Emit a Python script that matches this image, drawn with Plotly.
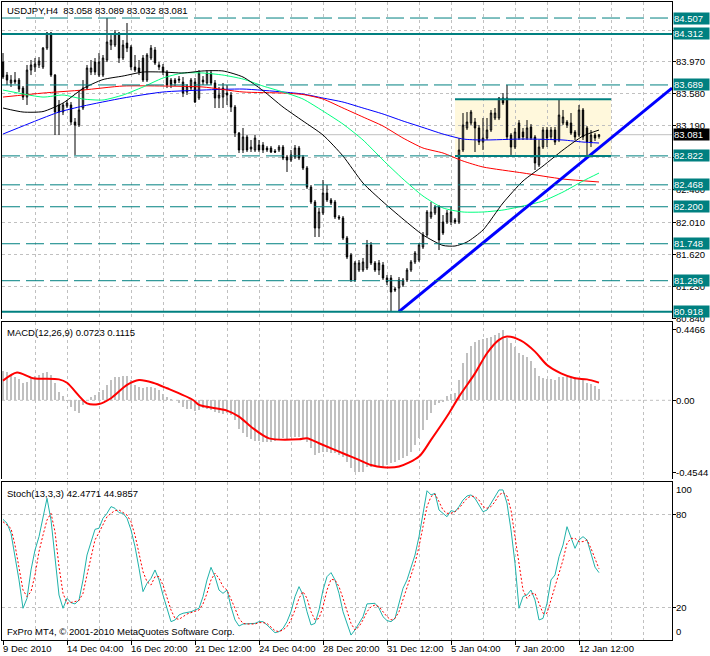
import plotly.graph_objects as go

# ---------------- data ----------------
bar_index = list(range(150))
open_ = [83.969,83.810,83.713,83.749,83.749,83.651,83.541,83.871,83.908,83.933,
         83.908,84.140,84.324,83.810,83.444,83.358,83.431,83.444,83.236,83.199,
         83.407,83.651,83.847,83.969,83.810,83.810,83.994,84.177,84.177,84.324,
         84.018,84.201,84.153,83.908,83.896,84.018,83.749,84.018,84.116,83.933,
         83.908,83.847,83.749,83.749,83.761,83.725,83.603,83.651,83.725,83.529,
         83.749,83.713,83.835,83.713,83.529,83.541,83.590,83.566,83.419,83.101,
         82.894,83.053,82.906,82.894,82.955,82.955,82.918,82.918,82.881,82.894,
         82.930,82.808,82.771,82.808,82.918,82.808,82.674,82.441,82.258,81.940,
         82.124,82.368,82.283,82.258,82.075,82.063,81.818,81.610,81.305,81.427,
         81.427,81.451,81.733,81.513,81.427,81.488,81.329,81.329,81.195,81.207,
         81.244,81.305,81.427,81.525,81.549,81.708,81.855,82.075,82.124,82.197,
         82.014,82.014,82.014,82.038,82.014,82.894,83.163,83.224,83.236,83.163,
         82.991,83.040,83.138,83.285,83.285,83.529,83.529,83.077,82.930,83.224,
         83.114,83.040,83.175,83.053,82.710,82.930,83.138,83.053,83.138,83.016,
         83.224,83.236,83.224,83.114,83.077,83.383,83.163,82.991,83.077,83.058]
high = [84.079,83.847,83.810,83.847,83.774,83.676,83.933,83.994,84.018,84.030,
        84.153,84.336,84.336,83.823,83.505,83.468,83.505,83.480,83.285,83.627,
        83.749,83.933,83.994,84.018,84.079,84.055,84.507,84.299,84.360,84.336,
        84.238,84.446,84.177,84.055,83.994,84.055,84.079,84.177,84.153,83.969,
        83.945,83.871,83.774,83.774,83.798,83.786,83.700,83.774,83.774,83.871,
        83.798,83.871,83.871,83.749,83.664,83.713,83.688,83.603,83.444,83.114,
        83.163,83.077,83.016,83.077,83.016,82.991,82.943,82.943,82.906,82.955,
        82.955,82.833,82.894,82.955,82.943,82.833,82.698,82.466,82.283,82.185,
        82.527,82.466,82.307,82.283,82.099,82.087,81.843,81.635,81.537,81.549,
        81.574,81.794,81.769,81.537,81.549,81.525,81.366,81.366,81.219,81.341,
        81.329,81.451,81.549,81.659,81.757,81.891,82.160,82.258,82.221,82.221,
        82.099,82.160,82.197,82.063,83.040,83.346,83.358,83.383,83.285,83.199,
        83.285,83.285,83.383,83.407,83.541,83.590,83.688,83.101,83.163,83.260,
        83.163,83.260,83.211,83.077,83.016,83.175,83.175,83.175,83.175,83.505,
        83.383,83.260,83.346,83.138,83.444,83.407,83.187,83.138,83.101,83.089]
low = [83.761,83.688,83.664,83.700,83.603,83.505,83.444,83.810,83.847,83.896,
       83.884,84.116,83.786,83.077,83.077,83.321,83.407,83.199,82.833,83.175,
       83.383,83.627,83.810,83.810,83.786,83.786,83.969,84.116,84.153,83.957,
       83.994,84.091,83.871,83.847,83.810,83.725,83.725,83.994,83.933,83.871,
       83.810,83.651,83.651,83.676,83.713,83.541,83.566,83.627,83.468,83.505,
       83.688,83.688,83.688,83.407,83.407,83.407,83.444,83.358,83.053,82.857,
       82.857,82.869,82.869,82.869,82.869,82.857,82.869,82.857,82.857,82.869,
       82.771,82.625,82.747,82.784,82.771,82.649,82.417,82.234,81.830,81.830,
       82.099,82.258,82.221,82.050,82.038,81.794,81.561,81.280,81.280,81.403,
       81.403,81.427,81.488,81.403,81.366,81.305,81.244,80.918,81.158,80.918,
       81.219,81.280,81.403,81.500,81.525,81.684,81.830,82.050,82.099,81.671,
       81.855,81.989,81.977,81.989,81.989,82.869,83.138,83.199,82.869,82.955,
       82.894,83.016,83.114,83.260,83.260,83.444,83.016,82.833,82.906,83.016,
       83.016,83.016,83.016,82.649,82.686,82.906,82.930,83.016,82.955,82.991,
       83.199,83.163,83.077,83.016,83.053,83.016,82.808,82.930,83.004,83.032]
close = [83.786,83.749,83.749,83.725,83.639,83.541,83.871,83.933,83.945,83.981,
         84.140,84.324,83.810,83.358,83.358,83.444,83.468,83.236,83.199,83.383,
         83.651,83.896,83.896,83.847,83.969,84.018,84.214,84.238,84.324,84.018,
         84.177,84.140,83.908,83.871,83.847,83.749,84.055,84.140,83.957,83.908,
         83.847,83.688,83.688,83.713,83.749,83.590,83.676,83.749,83.480,83.835,
         83.725,83.835,83.713,83.529,83.566,83.651,83.566,83.419,83.101,82.894,
         83.053,82.894,82.930,83.040,82.894,82.894,82.894,82.869,82.869,82.930,
         82.796,82.771,82.833,82.918,82.796,82.674,82.441,82.258,81.940,82.136,
         82.368,82.283,82.246,82.075,82.063,81.818,81.586,81.305,81.513,81.513,
         81.525,81.733,81.513,81.427,81.513,81.329,81.280,81.158,81.183,81.305,
         81.305,81.427,81.525,81.635,81.733,81.855,82.136,82.136,82.197,81.794,
         81.879,82.124,82.136,82.014,82.894,83.199,83.236,83.358,83.163,82.991,
         83.040,83.138,83.346,83.346,83.529,83.468,83.053,82.930,83.114,83.040,
         83.053,83.163,83.040,82.735,82.930,83.138,83.040,83.138,82.991,83.321,
         83.297,83.199,83.101,83.053,83.383,83.053,82.991,83.077,83.040,83.081]

ma_black_x = [0,5,10,15,20,25,30,35,40,45,50,55,60,65,70,75,80,85,90,95,100,105,110,113,116,120,125,130,135,140,145,149]
ma_black = [83.407,83.358,83.364,83.468,83.645,83.755,83.798,83.847,83.847,83.835,83.860,83.860,83.786,83.620,
            83.419,83.248,83.077,82.820,82.490,82.260,82.050,81.855,81.727,81.720,81.769,81.916,82.246,82.515,
            82.698,82.894,83.065,83.138]
ma_green_x = [0,10,15,20,25,30,35,40,45,50,55,60,65,70,75,80,85,90,95,100,105,110,115,120,125,130,135,140,145,149]
ma_green = [83.627,83.541,83.566,83.517,83.505,83.566,83.664,83.774,83.835,83.835,83.810,83.761,83.676,83.603,
            83.517,83.370,83.211,83.016,82.771,82.539,82.331,82.185,82.136,82.136,82.160,82.209,82.270,82.380,
            82.515,82.612]
ma_red_x = [0,10,20,30,40,50,60,70,75,80,85,90,95,100,105,110,115,120,130,140,149]
ma_red = [83.541,83.590,83.627,83.676,83.676,83.664,83.603,83.590,83.572,83.517,83.407,83.297,83.187,83.040,
          82.918,82.857,82.759,82.686,82.613,82.539,82.503]
ma_blue_x = [0,10,14,20,30,40,50,60,70,75,80,85,90,95,100,105,110,115,120,130,140,145,149]
ma_blue = [83.089,83.285,83.358,83.431,83.529,83.603,83.627,83.639,83.603,83.578,83.529,83.480,83.407,83.334,
           83.248,83.169,83.089,83.028,83.016,83.028,83.016,82.991,82.979]

macd_hist = [0.187,0.177,0.160,0.145,0.132,0.107,0.118,0.139,0.154,0.160,
             0.170,0.181,0.160,0.107,0.055,0.027,-0.004,-0.044,-0.065,-0.078,
             -0.029,0.002,0.019,0.034,0.055,0.065,0.097,0.128,0.145,0.149,
             0.154,0.154,0.128,0.097,0.086,0.076,0.082,0.086,0.080,0.065,
             0.040,0.019,0.006,0.002,-0.015,-0.040,-0.053,-0.057,-0.069,-0.061,
             -0.050,-0.057,-0.061,-0.072,-0.078,-0.086,-0.082,-0.093,-0.124,-0.183,
             -0.208,-0.229,-0.246,-0.254,-0.257,-0.261,-0.265,-0.265,-0.254,-0.246,
             -0.240,-0.246,-0.233,-0.229,-0.229,-0.240,-0.261,-0.303,-0.345,-0.334,
             -0.324,-0.324,-0.334,-0.334,-0.345,-0.355,-0.387,-0.429,-0.450,-0.454,
             -0.450,-0.418,-0.418,-0.414,-0.418,-0.418,-0.408,-0.397,-0.387,-0.376,
             -0.366,-0.351,-0.324,-0.282,-0.240,-0.187,-0.124,-0.078,-0.029,-0.019,
             -0.008,0.027,0.040,0.048,0.128,0.233,0.297,0.343,0.370,0.381,
             0.385,0.391,0.402,0.412,0.423,0.4466,0.391,0.364,0.339,0.301,
             0.286,0.276,0.250,0.202,0.154,0.139,0.132,0.132,0.128,0.149,
             0.145,0.145,0.145,0.145,0.139,0.132,0.111,0.103,0.090,0.0723]
macd_signal_x = [0,3.5,7.5,14,16,21,24,27,31,34,37.5,41,47.5,49,56,59,62.5,66.5,74,76,79,86,89,92,95,99,
                 104,107,111.5,114,118,121,124,126,129.5,133,136,139.5,143,146,149]
macd_signal = [0.124,0.175,0.139,0.132,0.111,-0.019,-0.023,0.013,0.097,0.128,0.111,0.076,0.002,-0.029,
               -0.065,-0.103,-0.177,-0.240,-0.246,-0.240,-0.271,-0.345,-0.376,-0.408,-0.423,-0.418,
               -0.355,-0.250,-0.082,0.023,0.170,0.297,0.381,0.402,0.376,0.307,0.223,0.170,0.139,0.132,0.1115]

stoch_main = [76.7,74.2,67.7,52.7,37.8,19.6,26.0,44.2,57.0,65.6,
              78.4,90.2,76.3,50.6,28.1,19.6,26.0,23.2,22.4,24.9,
              37.8,53.8,62.4,70.3,71.0,77.4,80.6,84.9,83.8,81.0,
              80.6,77.4,69.9,59.2,45.3,30.3,35.6,38.8,44.2,37.8,
              28.1,19.6,11.0,12.1,15.3,16.4,16.8,17.4,18.5,19.6,
              27.1,37.8,45.9,39.9,31.3,29.2,31.3,20.6,12.1,8.2,
              9.5,9.5,9.5,9.9,11.0,11.0,8.9,6.1,3.9,4.6,
              6.7,11.0,17.4,27.1,33.5,28.1,17.4,8.9,9.9,18.5,
              31.3,39.9,42.5,37.8,29.2,17.4,9.9,2.4,5.7,9.9,
              14.2,22.4,22.8,22.8,19.6,14.2,11.7,11.0,13.1,22.8,
              32.4,37.8,45.3,53.8,65.6,80.6,95.1,92.4,93.4,82.7,
              80.6,78.4,82.3,81.6,84.9,89.1,91.7,92.4,90.2,85.9,
              81.6,82.7,87.0,91.3,95.6,95.6,87.0,69.9,48.5,19.6,
              27.1,28.2,31.3,24.9,12.1,13.1,22.8,37.8,41.0,52.7,
              60.2,72.0,65.6,58.1,63.5,65.6,63.5,54.9,46.0,42.48]
stoch_signal = [75.2,73.1,70.9,60.2,45.3,31.3,27.1,30.3,41.0,56.0,
                66.6,76.3,80.6,68.8,46.3,29.2,22.8,23.2,23.9,24.6,
                29.2,41.0,52.7,63.5,68.2,73.1,78.4,80.6,82.3,82.7,
                81.0,79.5,75.2,66.6,54.9,43.1,36.7,34.5,39.9,39.9,
                34.5,26.0,18.5,13.1,12.5,14.2,15.9,16.8,17.9,18.5,
                22.4,29.2,37.8,42.1,38.8,33.5,31.3,26.0,19.6,13.1,
                9.9,9.5,9.5,9.5,10.4,10.4,9.9,7.8,5.2,4.6,
                5.7,7.8,12.1,18.5,26.0,30.3,26.0,17.4,12.1,13.1,
                20.6,31.3,38.2,37.8,33.5,26.0,17.4,9.9,5.7,7.8,
                12.1,17.4,20.6,21.7,20.6,17.4,14.2,12.1,13.1,17.4,
                24.9,32.4,39.9,48.5,59.2,72.0,84.9,91.3,93.0,88.1,
                82.7,80.6,80.6,81.6,83.8,87.0,90.2,91.7,91.3,89.1,
                84.9,83.8,84.9,88.1,92.4,93.9,91.7,82.7,65.6,46.3,
                31.3,26.0,28.8,29.2,22.4,16.4,16.4,24.9,33.5,43.1,
                50.6,61.3,64.5,64.5,62.4,62.4,63.5,58.1,51.7,44.99]

tick_bars = [0, 16, 32, 48, 64, 80, 96, 112, 128, 144]
tick_text = ["9 Dec 2010", "14 Dec 04:00", "16 Dec 20:00", "21 Dec 12:00", "24 Dec 04:00",
             "28 Dec 20:00", "31 Dec 12:00", "5 Jan 04:00", "7 Jan 20:00", "12 Jan 12:00"]

price_grid = [84.360, 83.970, 83.580, 83.190, 82.800, 82.405, 82.010, 81.620, 81.230, 80.840]
price_label_vals = [84.360, 83.970, 83.580, 83.190, 82.405, 82.010, 81.620, 81.230, 80.840]
price_label_text = ["84.360", "83.970", "83.580", "83.190", "82.400", "82.010", "81.620", "81.230", "80.840"]
levels_dashed = [84.507, 83.689, 82.822, 82.468, 82.200, 81.748, 81.296]
levels_solid = [84.312, 80.918]
last_price = 83.081
rect_bars = [113, 152]
rect_prices = [82.822, 83.513]
trend_bars = [99, 167.25]
trend_prices = [80.918, 83.651]
macd_labels = [0.4466, 0.0, -0.4544]
macd_label_text = ["0.4466", "0.00", "-0.4544"]
stoch_levels = [80, 20]

header_price = "USDJPY,H4\u00a0 83.058 83.089 83.032 83.081"
header_macd = "MACD(12,26,9) 0.0723 0.1115"
header_stoch = "Stoch(13,3,3) 42.4771 44.9857"
copyright_text = "FxPro MT4, \u00a9 2001-2010 MetaQuotes Software Corp."

# ---------------- layout geometry ----------------
W, H = 710, 656
ML, MR, MT, MB = 2, 38, 2, 16
PH = H - MT - MB

def dom(top_px, bot_px):
    return [(H - MB - bot_px) / PH, (H - MB - top_px) / PH]

XR = [-0.25, 167.25]
TEAL = "#008080"
GRID = "#C0C0C0"
FONT = "Liberation Sans"
FS = 9.5

fig = go.Figure()

fig.add_trace(go.Candlestick(
    x=bar_index, open=open_, high=high, low=low, close=close,
    increasing=dict(line=dict(color="black", width=1), fillcolor="white"),
    decreasing=dict(line=dict(color="black", width=1), fillcolor="black"),
    whiskerwidth=0, xaxis="x", yaxis="y", showlegend=False, hoverinfo="skip"))

for xs, ys, col in [(ma_blue_x, ma_blue, "#0000FF"), (ma_red_x, ma_red, "#FF0000"),
                    (ma_green_x, ma_green, "#00FF7F"), (ma_black_x, ma_black, "#000000")]:
    fig.add_trace(go.Scatter(x=xs, y=ys, mode="lines", line=dict(color=col, width=1, shape="spline", smoothing=0.6),
                             xaxis="x", yaxis="y", showlegend=False, hoverinfo="skip"))

fig.add_trace(go.Scatter(x=trend_bars, y=trend_prices, mode="lines", line=dict(color="#0000FF", width=3),
                         xaxis="x", yaxis="y", showlegend=False, hoverinfo="skip"))

fig.add_trace(go.Bar(x=bar_index, y=macd_hist, marker=dict(color=GRID, line=dict(width=0)), width=0.7,
                     xaxis="x2", yaxis="y2", showlegend=False, hoverinfo="skip"))
fig.add_trace(go.Scatter(x=macd_signal_x, y=macd_signal, mode="lines",
                         line=dict(color="#FF0000", width=2, shape="spline", smoothing=0.8),
                         xaxis="x2", yaxis="y2", showlegend=False, hoverinfo="skip"))

fig.add_trace(go.Scatter(x=bar_index, y=stoch_main, mode="lines", line=dict(color="#20B2AA", width=1),
                         xaxis="x3", yaxis="y3", showlegend=False, hoverinfo="skip"))
fig.add_trace(go.Scatter(x=bar_index, y=stoch_signal, mode="lines", line=dict(color="#FF0000", width=1, dash="2px,2px"),
                         xaxis="x3", yaxis="y3", showlegend=False, hoverinfo="skip"))

shapes = []
shapes.append(dict(type="rect", xref="x", yref="y", x0=rect_bars[0], x1=rect_bars[1], y0=rect_prices[0], y1=rect_prices[1],
                   fillcolor="#FFF8DC", line=dict(width=0), layer="below"))
shapes.append(dict(type="line", xref="x domain", yref="y", x0=0, x1=1, y0=last_price, y1=last_price,
                   line=dict(color=GRID, width=1), layer="below"))
for lv in levels_dashed:
    shapes.append(dict(type="line", xref="x domain", yref="y", x0=0, x1=1, y0=lv, y1=lv,
                       line=dict(color=TEAL, width=1, dash="18px,6px")))
for lv in levels_solid:
    shapes.append(dict(type="line", xref="x domain", yref="y", x0=0, x1=1, y0=lv, y1=lv,
                       line=dict(color=TEAL, width=2)))
for rp in rect_prices:
    shapes.append(dict(type="line", xref="x", yref="y", x0=rect_bars[0], x1=rect_bars[1], y0=rp, y1=rp,
                       line=dict(color=TEAL, width=2)))
shapes.append(dict(type="line", xref="x2 domain", yref="y2", x0=0, x1=1, y0=0, y1=0,
                   line=dict(color=GRID, width=1, dash="3px,3px"), layer="below"))

ann = []
def txt(text, xref, x, yref, y, xanchor="left", yanchor="middle", xshift=0, yshift=0, **kw):
    d = dict(text=text, xref=xref, x=x, yref=yref, y=y, xanchor=xanchor, yanchor=yanchor,
             xshift=xshift, yshift=yshift, showarrow=False, font=dict(family=FONT, size=FS, color="black"))
    d.update(kw)
    return d

ann.append(txt(header_price, "paper", 0, "y domain", 1, yshift=-8, xshift=3))
ann.append(txt(header_macd, "paper", 0, "y2 domain", 1, yshift=-11, xshift=3))
ann.append(txt(header_stoch, "paper", 0, "y3 domain", 1, yshift=-11, xshift=3))
ann.append(txt(copyright_text, "paper", 0, "y3 domain", 0, yshift=9, xshift=3))

for v, t in zip(price_label_vals, price_label_text):
    ann.append(txt(t, "paper", 1, "y", v, xshift=2))
for v in levels_dashed + levels_solid:
    ann.append(txt("%.3f" % v, "paper", 1, "y", v, xshift=1, bgcolor=TEAL, width=35, height=11, borderpad=0,
                   align="left", font=dict(family=FONT, size=FS, color="white")))
ann.append(txt("%.3f" % last_price, "paper", 1, "y", last_price, xshift=1, bgcolor="black", width=35, height=11,
               borderpad=0, align="left", font=dict(family=FONT, size=FS, color="white")))
for v, t in zip(macd_labels, macd_label_text):
    ann.append(txt(t, "paper", 1, "y2", v, xshift=2))
ann.append(txt("100", "paper", 1, "y3", 96.2, xshift=2))
ann.append(txt("80", "paper", 1, "y3", 80, xshift=2))
ann.append(txt("20", "paper", 1, "y3", 20, xshift=2))
ann.append(txt("0", "paper", 1, "y3", 4.4, xshift=2))
for b, t in zip(tick_bars, tick_text):
    ann.append(txt(t, "x3", b, "paper", 0, yanchor="top", xshift=-2, yshift=-1))

gridstyle = dict(showgrid=True, gridcolor=GRID, griddash="3px,3px", gridwidth=1)
minor = dict(tickmode="linear", tick0=0, dtick=8, showgrid=True, gridcolor=GRID, griddash="3px,3px", ticks="")

xcommon = dict(range=XR, tickmode="array", tickvals=tick_bars, showticklabels=False, zeroline=False,
               showline=True, linecolor="black", linewidth=1, minor=minor, automargin=False, fixedrange=True, **gridstyle)

fig.update_layout(
    width=W, height=H, margin=dict(l=ML, r=MR, t=MT, b=MB),
    paper_bgcolor="white", plot_bgcolor="white",
    font=dict(family=FONT, size=FS, color="black"),
    showlegend=False, boxgap=0.5, bargap=0,
    xaxis=dict(domain=[0, 1], anchor="y", side="top", ticks="", rangeslider=dict(visible=False), **xcommon),
    xaxis2=dict(domain=[0, 1], anchor="y2", side="top", ticks="", **xcommon),
    xaxis3=dict(domain=[0, 1], anchor="y3", side="bottom", mirror=True, ticks="outside", ticklen=4,
                tickcolor="black", **xcommon),
    yaxis=dict(domain=dom(2, 319), anchor="x", range=[80.828, 84.703], side="right", tickmode="array",
               tickvals=price_grid, showticklabels=False, ticks="outside", ticklen=3, tickcolor="black",
               showline=True, mirror=True, linecolor="black", zeroline=False, automargin=False, fixedrange=True,
               **gridstyle),
    yaxis2=dict(domain=dom(322, 479), anchor="x2", range=[-0.4965, 0.494], side="right", tickmode="array",
                tickvals=macd_labels, showticklabels=False, ticks="outside", ticklen=3, tickcolor="black",
                showline=True, mirror=True, linecolor="black", zeroline=False, showgrid=False, automargin=False,
                fixedrange=True),
    yaxis3=dict(domain=dom(482, 640), anchor="x3", range=[-0.77, 100.7], side="right", tickmode="array",
                tickvals=stoch_levels, showticklabels=False, ticks="outside", ticklen=3, tickcolor="black",
                showline=True, mirror=True, linecolor="black", zeroline=False, automargin=False, fixedrange=True,
                **gridstyle),
    shapes=shapes, annotations=ann,
)

fig.write_html("out.html", config={"displayModeBar": False, "staticPlot": True},
               post_script="document.body.style.margin='0';document.body.style.overflow='hidden';")
